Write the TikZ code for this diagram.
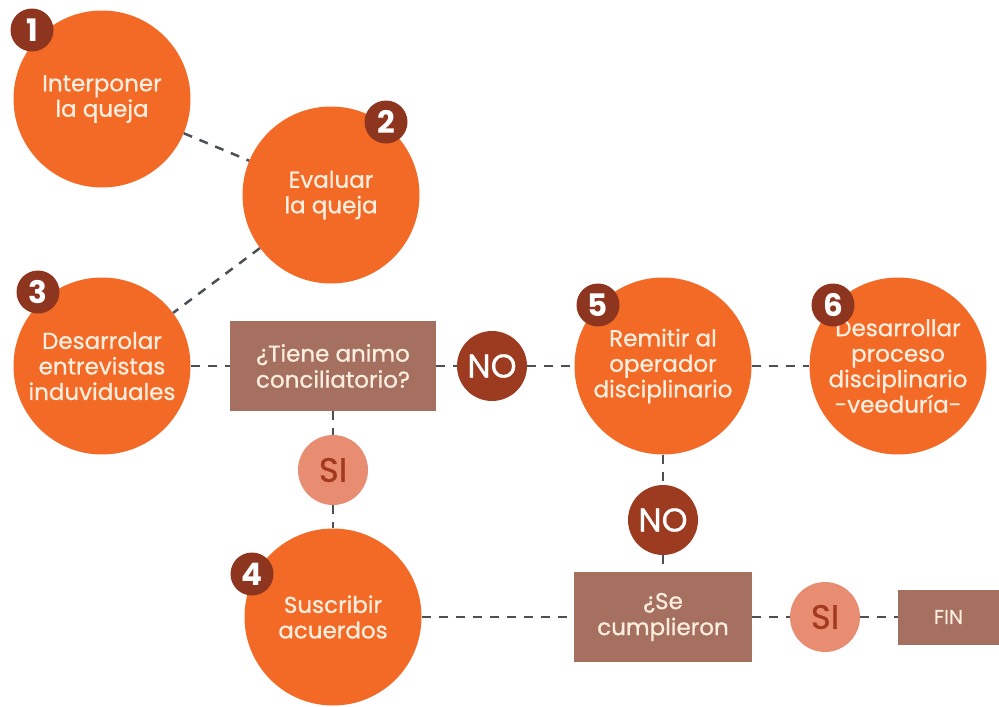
\documentclass[tikz,border=0pt]{standalone}
\usepackage{fontspec}
\setmainfont{Poppins}
\newfontfamily\medio[FakeBold=0.8]{Poppins}
\definecolor{naranja}{HTML}{F36A26}
\definecolor{marron}{HTML}{8E3520}
\definecolor{caja}{HTML}{A5705F}
\definecolor{rojizo}{HTML}{9C3B1F}
\definecolor{salmon}{HTML}{E98D72}
\definecolor{rojotxt}{HTML}{A33A1E}
\definecolor{crema}{HTML}{FDEEDF}
\definecolor{gris}{HTML}{4C5055}
\begin{document}
\begin{tikzpicture}[x=1pt, y=-1pt, line join=round, line cap=butt,
    paso/.style={circle, fill=naranja, text=crema, minimum size=177pt, inner sep=0pt,
      align=center, font=\medio\fontsize{23}{25.5}\selectfont},
    numero/.style={circle, fill=marron, text=white, minimum size=43pt, inner sep=0pt,
      font=\fontsize{31}{31}\selectfont\bfseries},
    pregunta/.style={rectangle, fill=caja, text=crema, inner sep=0pt, align=center,
      font=\medio\fontsize{23}{26}\selectfont},
    decisionno/.style={circle, fill=rojizo, text=white, minimum size=70pt, inner sep=0pt,
      font=\medio\fontsize{33}{33}\selectfont},
    decisionsi/.style={circle, fill=salmon, text=rojotxt, minimum size=70pt, inner sep=0pt,
      font=\medio\fontsize{34}{34}\selectfont},
    conector/.style={draw=gris, line width=2.5pt, dash pattern=on 9pt off 8pt}]
  \useasboundingbox (0,0) rectangle (999,707);

  % Pasos
  \node[paso] (c1) at (102,99) {Interponer\\la queja};
  \node[paso] (c2) at (331,195) {Evaluar\\la queja};
  \node[paso] (c3) at (102,366) {Desarrolar\\entrevistas\\induviduales};
  \node[paso] (c4) at (333,617) {Suscribir\\acuerdos};
  \node[paso] (c5) at (663,366) {Remitir al\\operador\\disciplinario};
  \node[paso] (c6) at (898,366) {Desarrollar\\proceso\\disciplinario\\-veeduría-};

  % Preguntas y fin
  \node[pregunta, minimum width=206pt, minimum height=90pt] (p1) at (333,366) {¿Tiene animo\\conciliatorio?};
  \node[pregunta, minimum width=178pt, minimum height=90pt] (p2) at (663,617) {¿Se\\cumplieron};
  \node[pregunta, minimum width=101pt, minimum height=55pt, font=\medio\fontsize{20}{20}\selectfont] (fin) at (948.5,617) {FIN};

  % Respuestas
  \node[decisionno] (no1) at (492,366) {NO};
  \node[decisionno] (no2) at (663,520) {NO};
  \node[decisionsi] (si1) at (333,470) {SI};
  \node[decisionsi] (si2) at (825,617) {SI};

  % Numeros
  \node[numero] (n1) at (32,30) {1};
  \node[numero] (n2) at (386,122) {2};
  \node[numero] (n3) at (38,292) {3};
  \node[numero] (n4) at (252,574) {4};
  \node[numero] (n5) at (598,305) {5};
  \node[numero] (n6) at (833,305) {6};

  % Conectores
  \draw[conector] (c1) -- (c2);
  \draw[conector] (c2) -- (c3);
  \draw[conector] (c3) -- (p1);
  \draw[conector] (p1) -- (no1);
  \draw[conector] (no1) -- (c5);
  \draw[conector] (c5) -- (c6);
  \draw[conector] (p1) -- (si1);
  \draw[conector] (si1) -- (c4);
  \draw[conector] (c5) -- (no2);
  \draw[conector] (no2) -- (p2);
  \draw[conector] (c4) -- (p2);
  \draw[conector] (p2) -- (si2);
  \draw[conector] (si2) -- (fin);
\end{tikzpicture}
\end{document}
